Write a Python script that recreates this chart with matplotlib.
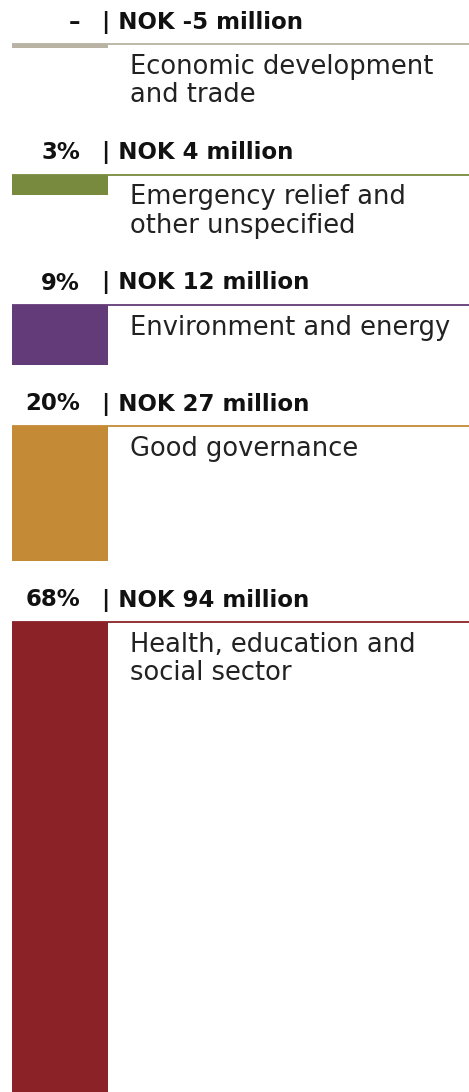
import matplotlib.pyplot as plt

# values in NOK million
categories = [
    "Economic development\nand trade",
    "Emergency relief and\nother unspecified",
    "Environment and energy",
    "Good governance",
    "Health, education and\nsocial sector",
]
values = [-5, 4, 12, 27, 94]
shares = ["\u2013", "3%", "9%", "20%", "68%"]
colors = ["#b8b3a3", "#778a3d", "#633b78", "#c48a36", "#8b2228"]

W, H = 469, 1092
PX = 5.0  # pixels per NOK million

fig = plt.figure(figsize=(W / 100, H / 100), dpi=100)
ax = fig.add_axes([0, 0, 1, 1])
ax.set_xlim(0, W)
ax.set_ylim(H / PX, 0)
ax.axis("off")

top = 44 / PX
gap = 12.2
for cat, val, share, col in zip(categories, values, shares, colors):
    nlines = cat.count("\n") + 1
    # negative values shown only as a thin strip
    h = val if val > 0 else 0.8
    ax.bar(12, h, width=96, bottom=top, align="edge", color=col, linewidth=0)
    ax.plot([12, W], [top, top], color=col, linewidth=1.3, solid_capstyle="butt")

    hy = top - 4.4
    ax.text(80, hy, share, ha="right", va="center", fontsize=16.5,
            fontweight="bold", color="#111111")
    ax.text(102, hy, "| NOK %d million" % val, ha="left", va="center",
            fontsize=16.5, fontweight="bold", color="#111111")
    ax.text(130, top + 2.0, cat, ha="left", va="top", fontsize=18.5,
            color="#222222", linespacing=1.12)

    text_h = 1.1 + nlines * 6.4
    top = top + max(h, text_h) + gap

fig.savefig("out.png", dpi=100)
